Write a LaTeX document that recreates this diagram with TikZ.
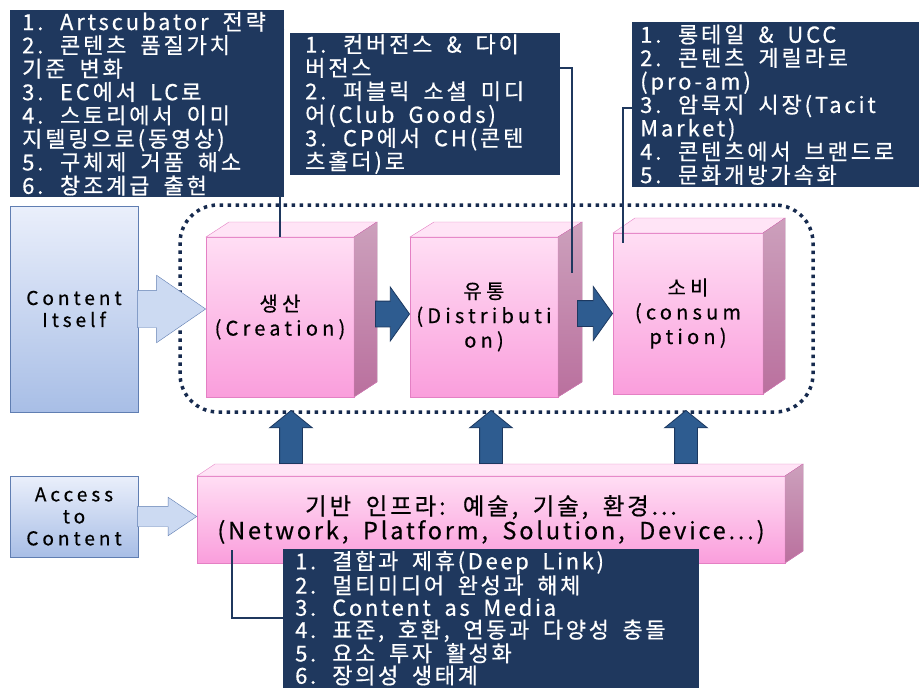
\documentclass[tikz,border=0pt]{standalone}
\usepackage{fontspec}
\setmainfont{Noto Sans CJK KR}
\newfontfamily\widefont[LetterSpace=13, WordSpace=1.8, FakeBold=0.5]{Noto Sans CJK KR}
\newfontfamily\labelfont[LetterSpace=21, FakeBold=0.5]{Noto Sans CJK KR}
\newfontfamily\basefont[LetterSpace=12, WordSpace=1.8, FakeBold=0.5]{Noto Sans CJK KR}
\usetikzlibrary{shapes.arrows,calc,positioning}

\definecolor{navy}{RGB}{31,56,94}
\definecolor{dotnavy}{RGB}{22,42,78}
\definecolor{pinktop}{RGB}{255,222,244}
\definecolor{pinkbot}{RGB}{250,158,220}
\definecolor{pinkline}{RGB}{228,128,196}
\definecolor{pinkside}{RGB}{204,160,188}
\definecolor{pinksidebot}{RGB}{186,112,158}
\definecolor{pinklid}{RGB}{255,228,246}
\definecolor{arrowblue}{RGB}{46,92,144}
\definecolor{arrowline}{RGB}{28,56,96}
\definecolor{paletop}{RGB}{234,239,251}
\definecolor{palebot}{RGB}{168,190,230}
\definecolor{palemid}{RGB}{204,218,242}
\definecolor{paleline}{RGB}{96,126,178}

\tikzset{
  note/.style={fill=navy, text=white, anchor=north west, align=flush left, inner ysep=0pt,
    font=\widefont\fontsize{22}{23.4}\selectfont},
  cube/.style={draw=pinkline, thin, top color=pinktop, bottom color=pinkbot, outer sep=0pt,
    align=center, font=\labelfont\fontsize{20}{24.5}\selectfont},
  lid/.style={fill=pinklid, draw=pinkline, thin},
  side/.style={top color=pinkside, bottom color=pinksidebot, draw=pinkline, thin},
  source/.style={draw=paleline, top color=paletop, bottom color=palebot, outer sep=0pt,
    align=center, font=\labelfont\fontsize{19}{22}\selectfont},
  fatarrow/.style={single arrow, inner xsep=0pt, minimum width=0pt, anchor=tip},
  palearrow/.style={fatarrow, fill=palemid, draw=paleline},
  bluearrow/.style={fatarrow, fill=arrowblue, draw=arrowline, thick},
  link/.style={draw=navy, line width=2.2pt},
  stage/.style={draw=dotnavy, line width=3.5pt, dash pattern=on 3.5pt off 4.5pt,
    rounded corners=38pt, minimum width=633, minimum height=207},
}

% top and side faces of a box
\newcommand{\cubefaces}[3]{%
  \filldraw[lid] (#1.north west) -- ([shift={(#2,#3)}]#1.north west)
    -- ([shift={(#2,#3)}]#1.north east) -- (#1.north east) -- cycle;
  \filldraw[side] (#1.north east) -- ([shift={(#2,#3)}]#1.north east)
    -- ([shift={(#2,#3)}]#1.south east) -- (#1.south east) -- cycle;}

\begin{document}
\begin{tikzpicture}[x=1pt,y=-1pt]
  % canvas
  \fill[white] (0,0) rectangle (919,688);
  \useasboundingbox (0,0) rectangle (919,688);

  % dotted frame round the value chain
  \node[stage] (chain) at (496.5,308.5) {};

  % sources
  \node[source, minimum width=128, minimum height=206] (cont) at (74,309) {Content\\Itself};
  \node[source, minimum width=128, minimum height=81] (acc) at (74,516.5) {Access\\to\\Content};

  % boxes
  \node[cube, minimum width=148, minimum height=160] (crea) at (280,317) {생산\\(Creation)};
  \cubefaces{crea}{23}{-15}
  \node[cube, minimum width=148, minimum height=160] (dist) at (484,317) {유통\\(Distributi\\on)};
  \cubefaces{dist}{24}{-15}
  \node[cube, minimum width=150, minimum height=161] (cons) at (688,313.5) {소비\\(consum\\ption)};
  \cubefaces{cons}{22}{-15}
  \node[cube, minimum width=588, minimum height=87, font=\basefont\fontsize{23.5}{24.5}\selectfont]
    (infra) at (491,519.5) {기반 인프라: 예술, 기술, 환경...\\(Network, Platform, Solution, Device...)};
  \cubefaces{infra}{18}{-12}

  % fat arrows
  \node[palearrow, minimum height=68, inner ysep=18.5, single arrow head extend=15,
    single arrow tip angle=69] (in1) at (crea.west |- cont.east) {};
  \node[palearrow, minimum height=59, inner ysep=10, single arrow head extend=9,
    single arrow tip angle=68] (in2) at (infra.west |- acc.east) {};
  \node[bluearrow, minimum height=34, inner ysep=12.5, single arrow head extend=14,
    single arrow tip angle=109] (flow1) at ([yshift=3]dist.west) {};
  \node[bluearrow, minimum height=35, inner ysep=12.5, single arrow head extend=14,
    single arrow tip angle=109] (flow2) at (cons.west) {};
  \foreach \ux [count=\i] in {291,491,686}
    \node[bluearrow, shape border rotate=90, minimum height=53, inner xsep=11, inner ysep=11,
      single arrow head extend=10, single arrow tip angle=102] (up\i) at (\ux,410) {};

  % pins
  \coordinate (distpin) at (572,273);
  \coordinate (conspin) at (623,243);
  \coordinate (infrapin) at (232,550);

  % notes
  \node[note, minimum width=267, minimum height=187, inner xsep=12pt, text width=250] (prodnote) at (10,10)
    {1. Artscubator 전략\\2. 콘텐츠 품질가치\\기준 변화\\3. EC에서 LC로\\4. 스토리에서 이미\\지텔링으로(동영상)\\5. 구체제 거품 해소\\6. 창조계급 출현};
  \node[note, minimum width=265, minimum height=142, inner xsep=15pt, text width=240] (distnote) at (290,33)
    {1. 컨버전스 \& 다이\\버전스\\2. 퍼블릭 소셜 미디\\어(Club Goods)\\3. CP에서 CH(콘텐\\츠홀더)로};
  \node[note, minimum width=284, minimum height=165, inner xsep=8pt, text width=300] (consnote) at (632,22)
    {1. 롱테일 \& UCC\\2. 콘텐츠 게릴라로\\(pro-am)\\3. 암묵지 시장(Tacit\\Market)\\4. 콘텐츠에서 브랜드로\\5. 문화개방가속화};
  \node[note, minimum width=416, minimum height=138, inner xsep=12pt, text width=392,
    font=\basefont\fontsize{22}{22.2}\selectfont] (basenote) at (283,549)
    {1. 결합과 제휴(Deep Link)\\2. 멀티미디어 완성과 해체\\3. Content as Media\\4. 표준, 호환, 연동과 다양성 충돌\\5. 요소 투자 활성화\\6. 장의성 생태계};
  \fill[navy] (basenote.south west) rectangle ([yshift=-10]basenote.south east);

  % links
  \draw[link] ([yshift=75]prodnote.east) -| (crea.north);
  \draw[link] ([yshift=36]distnote.east) -| (distpin);
  \draw[link] ([yshift=-3]consnote.west) -| (conspin);
  \draw[link] (infrapin) |- (basenote.west);
\end{tikzpicture}
\end{document}
